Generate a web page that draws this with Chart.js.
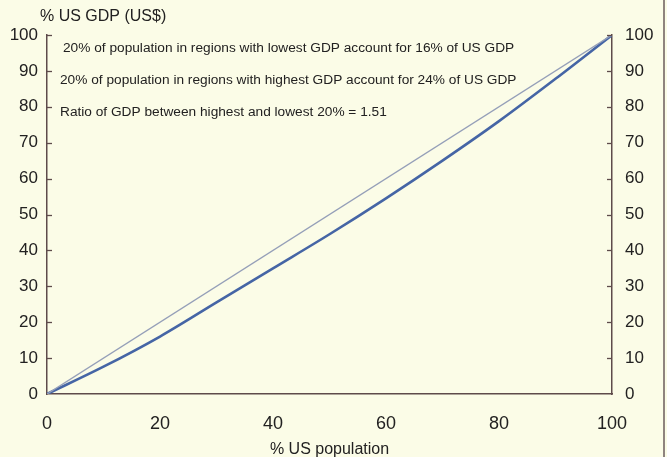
<!DOCTYPE html>
<html>
<head>
<meta charset="utf-8">
<script src="https://cdn.jsdelivr.net/npm/chart.js@4/dist/chart.umd.min.js"></script>
<style>
  html, body { margin: 0; padding: 0; background: #fbfce7; }
  #wrap { width: 667px; height: 457px; position: relative; }
</style>
</head>
<body>
<div id="wrap"><canvas id="c" width="667" height="457"></canvas></div>
<script>
// ---- data ----
const populationShare = [0, 10, 20, 30, 40, 50, 60, 70, 80, 90, 100];
const gdpShare = [0, 7.6, 16, 25.5, 35, 44.5, 54.5, 65, 76, 87.8, 100];
const equalityX = [0, 100];
const equalityY = [0, 100];
const xTicks = [0, 20, 40, 60, 80, 100];
const yTicks = [0, 10, 20, 30, 40, 50, 60, 70, 80, 90, 100];
const yTitle = '% US GDP (US$)';
const xTitle = '% US population';
const notes = [
  '20% of population in regions with lowest GDP account for 16% of US GDP',
  '20% of population in regions with highest GDP account for 24% of US GDP',
  'Ratio of GDP between highest and lowest 20% = 1.51'
];

const FONT = "'Liberation Sans', Arial, Helvetica, sans-serif";
const TEXT = '#222121';
const AXIS = '#5e4b4b';
const BG = '#fbfce7';

const decor = {
  id: 'decor',
  beforeDraw(chart) {
    const ctx = chart.ctx;
    ctx.save();
    ctx.fillStyle = BG;
    ctx.fillRect(0, 0, chart.width, chart.height);
    ctx.restore();
  },
  afterDraw(chart) {
    const ctx = chart.ctx;
    const y = chart.scales.y, y2 = chart.scales.y2;
    const area = chart.chartArea;
    ctx.save();
    ctx.strokeStyle = AXIS;
    ctx.lineWidth = 1.3;
    yTicks.forEach(v => {
      if (v === 0) return;
      const py = Math.round(y.getPixelForValue(v)) + 0.5;
      ctx.beginPath(); ctx.moveTo(area.left, py); ctx.lineTo(area.left + 5, py); ctx.stroke();
    });
    yTicks.forEach(v => {
      if (v === 0) return;
      const py = Math.round(y2.getPixelForValue(v)) + 0.5;
      ctx.beginPath(); ctx.moveTo(area.right, py); ctx.lineTo(area.right - 5, py); ctx.stroke();
    });
    ctx.lineWidth = 1.5;
    ctx.strokeStyle = '#6b5c5c';
    ctx.beginPath(); ctx.moveTo(664, 0); ctx.lineTo(664, chart.height); ctx.stroke();
    ctx.fillStyle = TEXT;
    ctx.textBaseline = 'middle';
    ctx.textAlign = 'left';
    ctx.font = '16px ' + FONT;
    ctx.fillText(yTitle, 40, 17);
    ctx.font = '13.7px ' + FONT;
    ctx.fillText(notes[0], 63, 48);
    ctx.fillText(notes[1], 60, 80);
    ctx.fillText(notes[2], 60, 112);
    ctx.restore();
  }
};

const tickFont = { family: FONT, size: 17 };

new Chart(document.getElementById('c'), {
  type: 'line',
  data: {
    datasets: [
      {
        label: 'Equality',
        data: equalityX.map((x, i) => ({ x, y: equalityY[i] })),
        borderColor: '#959fb8',
        borderWidth: 1.4,
        pointRadius: 0,
        fill: false,
        yAxisID: 'y'
      },
      {
        label: 'US GDP distribution',
        data: populationShare.map((x, i) => ({ x, y: gdpShare[i] })),
        borderColor: '#4565a5',
        borderWidth: 2.6,
        pointRadius: 0,
        cubicInterpolationMode: 'monotone',
        fill: false,
        yAxisID: 'y'
      }
    ]
  },
  options: {
    responsive: false,
    animation: false,
    devicePixelRatio: 1,
    layout: { padding: { top: 35, left: 0, right: 0, bottom: 0 } },
    plugins: { legend: { display: false }, tooltip: { enabled: false } },
    scales: {
      x: {
        type: 'linear', position: 'bottom', min: 0, max: 100,
        afterBuildTicks: s => { s.ticks = xTicks.map(v => ({ value: v })); },
        afterFit: s => { s.height = 63; },
        grid: { display: false, drawTicks: false },
        border: { display: true, color: AXIS, width: 1.5 },
        ticks: { font: { family: FONT, size: 18 }, color: TEXT, padding: 19, maxRotation: 0 },
        title: { display: true, text: xTitle, font: { family: FONT, size: 16 }, color: TEXT, padding: { top: 0, bottom: -2 } }
      },
      y: {
        type: 'linear', position: 'left', min: 0, max: 100,
        afterBuildTicks: s => { s.ticks = yTicks.map(v => ({ value: v })); },
        afterFit: s => { s.width = 47; },
        grid: { display: false, drawTicks: false },
        border: { display: true, color: AXIS, width: 1.5 },
        ticks: { font: tickFont, color: TEXT, padding: 9 }
      },
      y2: {
        type: 'linear', position: 'right', min: 0, max: 100,
        afterBuildTicks: s => { s.ticks = yTicks.map(v => ({ value: v })); },
        afterFit: s => { s.width = 55; },
        grid: { display: false, drawTicks: false },
        border: { display: true, color: AXIS, width: 1.5 },
        ticks: { font: tickFont, color: TEXT, padding: 13 }
      }
    }
  },
  plugins: [decor]
});
</script>
</body>
</html>
